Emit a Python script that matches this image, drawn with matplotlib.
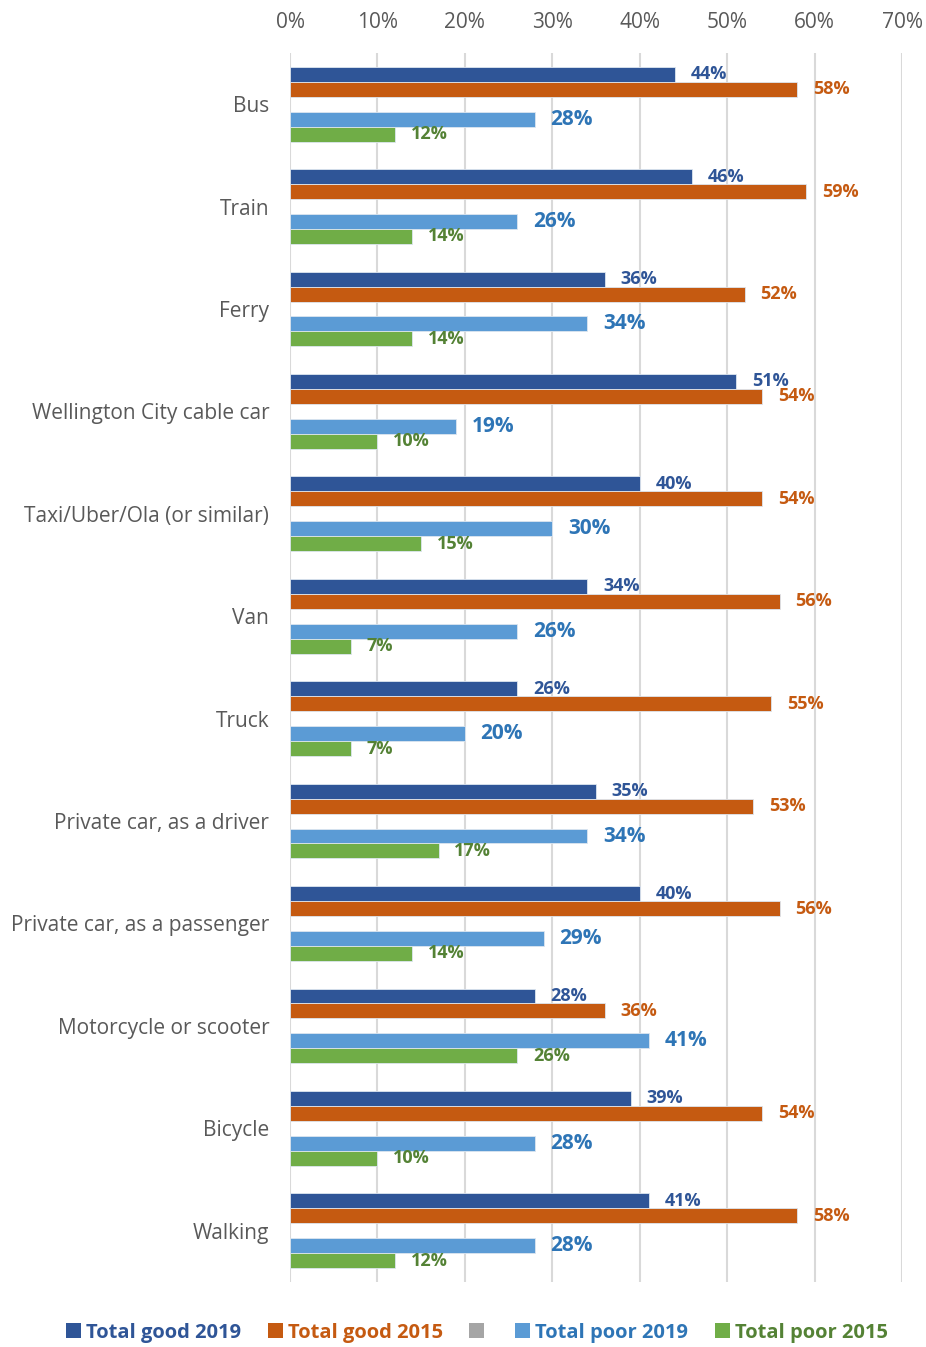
import numpy as np
import matplotlib.pyplot as plt
from matplotlib.patches import Patch
from matplotlib.ticker import FuncFormatter

plt.rcParams['font.family'] = ['Open Sans', 'DejaVu Sans']

modes = ['Bus', 'Train', 'Ferry', 'Wellington City cable car',
         'Taxi/Uber/Ola (or similar)', 'Van', 'Truck',
         'Private car, as a driver', 'Private car, as a passenger',
         'Motorcycle or scooter', 'Bicycle', 'Walking']
good_2019 = [44, 46, 36, 51, 40, 34, 26, 35, 40, 28, 39, 41]
good_2015 = [58, 59, 52, 54, 54, 56, 55, 53, 56, 36, 54, 58]
poor_2019 = [28, 26, 34, 19, 30, 26, 20, 34, 29, 41, 28, 28]
poor_2015 = [12, 14, 14, 10, 15, 7, 7, 17, 14, 26, 10, 12]

series = [
    ('Total good 2019', good_2019, '#2F5597', '#2F5597', 13),
    ('Total good 2015', good_2015, '#C55A11', '#C55A11', 13),
    ('', None, '#A5A5A5', '#A5A5A5', 13),
    ('Total poor 2019', poor_2019, '#5B9BD5', '#2E75B6', 15),
    ('Total poor 2015', poor_2015, '#70AD47', '#548235', 13),
]

fig = plt.figure(figsize=(9.26, 13.47), dpi=100)
ax = fig.add_axes([0.3132, 0.0483, 0.661, 0.9124])

y = np.arange(len(modes))
h = 0.146
for i, (name, vals, color, txt_color, fs) in enumerate(series):
    if vals is None:
        continue
    pos = y - 2 * h + i * h
    ax.barh(pos, vals, height=h, color=color, edgecolor='#DDE6F0', linewidth=0.6, zorder=2)
    for p, v in zip(pos, vals):
        ax.text(v + 1.8, p, f'{v}%', va='center', ha='left', color=txt_color,
                fontsize=fs, fontweight='bold', zorder=3)

ax.set_xlim(0, 70)
ax.set_ylim(len(modes) - 0.5, -0.5)
ax.set_xticks(np.arange(0, 71, 10))
ax.xaxis.set_major_formatter(FuncFormatter(lambda v, _: f'{v:.0f}%'))
ax.xaxis.tick_top()
ax.tick_params(axis='x', length=0, pad=14, labelsize=15, labelcolor='#595959')
ax.set_yticks(y)
ax.set_yticklabels(modes)
ax.tick_params(axis='y', length=0, pad=15, labelsize=15, labelcolor='#595959')
ax.grid(axis='x', color='#D9D9D9', linewidth=1.5, zorder=0)
ax.set_axisbelow(True)
for s in ax.spines.values():
    s.set_visible(False)

handles = [Patch(facecolor=c, edgecolor='none') for _, _, c, _, _ in series]
labels = [n for n, _, _, _, _ in series]
leg = fig.legend(handles, labels, loc='center', bbox_to_anchor=(0.515, 0.0105), ncol=5,
                 frameon=False, handlelength=0.75, handleheight=0.75, handletextpad=0.25,
                 columnspacing=1.3, prop={'size': 14.5, 'weight': 'bold'})
for t, (_, _, _, tc, _) in zip(leg.get_texts(), series):
    t.set_color(tc)

fig.savefig('out.png', dpi=100)
